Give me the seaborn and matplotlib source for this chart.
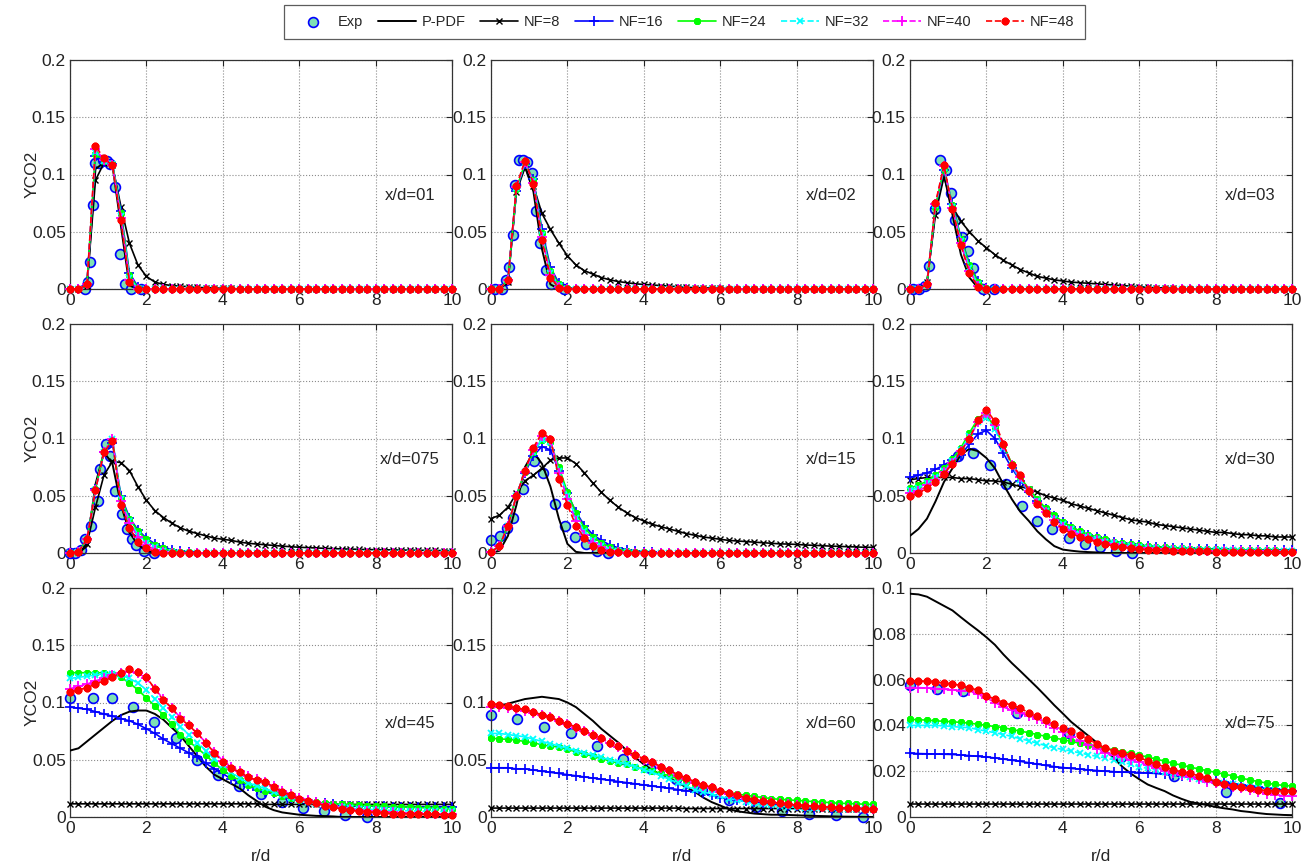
import numpy as np
import matplotlib
matplotlib.use("Agg")
import matplotlib.pyplot as plt
import seaborn as sns

# radial stations r/d shared by all simulation curves
r = np.linspace(0, 10, 46)

series_names = ["NF=8", "NF=16", "NF=24", "NF=32", "NF=40", "NF=48"]
panel_titles = ["x/d=01", "x/d=02", "x/d=03", "x/d=075", "x/d=15", "x/d=30",
                "x/d=45", "x/d=60", "x/d=75"]
x_ticks = [0, 2, 4, 6, 8, 10]
y_ticks_big = [0, 0.05, 0.1, 0.15, 0.2]
y_labels_big = ["0", "0.05", "0.1", "0.15", "0.2"]
y_ticks_small = [0, 0.02, 0.04, 0.06, 0.08, 0.1]
y_labels_small = ["0", "0.02", "0.04", "0.06", "0.08", "0.1"]

# ---- x/d = 01 ----
exp_x_01 = [0.4, 0.46, 0.52, 0.6, 0.66, 0.76, 0.86, 0.96, 1.06, 1.18, 1.32, 1.44, 1.6, 1.87]
exp_y_01 = [0.0, 0.006, 0.024, 0.073, 0.11, 0.11, 0.113, 0.112, 0.109, 0.089, 0.031, 0.004, 0.0, 0.0]
ppdf_01 = [0.0, 0.0, 0.003, 0.105, 0.11, 0.108, 0.055, 0.003]
nf8_01 = [0.0, 0.0, 0.003, 0.095, 0.11, 0.108, 0.072, 0.04, 0.021, 0.011,
          0.006, 0.004, 0.003, 0.0025, 0.002, 0.0015, 0.001, 0.001, 0.0005, 0.0005]
nf16_01 = [0.0, 0.0, 0.004, 0.116, 0.111, 0.109, 0.068, 0.014, 0.002]
nf24_01 = [0.0, 0.0, 0.004, 0.118, 0.112, 0.109, 0.066, 0.012, 0.001]
nf32_01 = [0.0, 0.0, 0.004, 0.12, 0.112, 0.109, 0.064, 0.01]
nf40_01 = [0.0, 0.0, 0.004, 0.122, 0.113, 0.108, 0.062, 0.008]
nf48_01 = [0.0, 0.0, 0.004, 0.125, 0.114, 0.108, 0.06, 0.006]

# ---- x/d = 02 ----
exp_x_02 = [0.1, 0.28, 0.39, 0.47, 0.57, 0.64, 0.72, 0.83, 0.95, 1.07, 1.18, 1.28, 1.44, 1.57, 1.9]
exp_y_02 = [0.0, 0.0, 0.008, 0.019, 0.047, 0.091, 0.113, 0.113, 0.111, 0.101, 0.068, 0.04, 0.017, 0.004, 0.0]
ppdf_02 = [0.0, 0.0, 0.006, 0.088, 0.107, 0.085, 0.035, 0.004]
nf8_02 = [0.0, 0.0, 0.006, 0.085, 0.106, 0.09, 0.066, 0.052, 0.04, 0.029,
          0.021, 0.016, 0.013, 0.01, 0.008, 0.0065, 0.0055, 0.0045, 0.004, 0.0035,
          0.003, 0.0025, 0.002, 0.0015, 0.0012, 0.001, 0.0008, 0.0006, 0.0004, 0.0002]
nf16_02 = [0.0, 0.0, 0.008, 0.086, 0.109, 0.096, 0.052, 0.019, 0.005, 0.001]
nf24_02 = [0.0, 0.0, 0.008, 0.087, 0.11, 0.095, 0.049, 0.016, 0.004, 0.001]
nf32_02 = [0.0, 0.0, 0.008, 0.088, 0.11, 0.094, 0.047, 0.014, 0.003]
nf40_02 = [0.0, 0.0, 0.008, 0.089, 0.111, 0.093, 0.045, 0.012, 0.002]
nf48_02 = [0.0, 0.0, 0.008, 0.09, 0.112, 0.092, 0.043, 0.01, 0.001]

# ---- x/d = 03 ----
exp_x_03 = [0.09, 0.24, 0.39, 0.5, 0.65, 0.78, 0.94, 1.07, 1.19, 1.35, 1.53, 1.65, 1.91, 2.19]
exp_y_03 = [0.0, 0.0, 0.003, 0.02, 0.07, 0.113, 0.104, 0.084, 0.06, 0.045, 0.033, 0.018, 0.0, 0.0]
ppdf_03 = [0.0, 0.0, 0.005, 0.07, 0.1, 0.065, 0.03, 0.01, 0.001]
nf8_03 = [0.0, 0.0, 0.006, 0.065, 0.098, 0.072, 0.059, 0.05, 0.042, 0.036,
          0.03, 0.025, 0.021, 0.017, 0.014, 0.011, 0.0095, 0.008, 0.007, 0.006,
          0.0055, 0.005, 0.0045, 0.004, 0.0035, 0.003, 0.0025, 0.002, 0.0015, 0.001,
          0.001, 0.0005]
nf16_03 = [0.0, 0.0, 0.004, 0.071, 0.104, 0.074, 0.045, 0.022, 0.007, 0.001]
nf24_03 = [0.0, 0.0, 0.004, 0.072, 0.105, 0.073, 0.044, 0.021, 0.006, 0.001]
nf32_03 = [0.0, 0.0, 0.004, 0.073, 0.106, 0.072, 0.042, 0.018, 0.004]
nf40_03 = [0.0, 0.0, 0.004, 0.074, 0.107, 0.071, 0.04, 0.016, 0.003]
nf48_03 = [0.0, 0.0, 0.004, 0.075, 0.108, 0.07, 0.038, 0.014, 0.002]

# ---- x/d = 075 ----
exp_x_075 = [0.0, 0.13, 0.3, 0.39, 0.54, 0.72, 0.79, 0.94, 1.04, 1.18, 1.35, 1.48, 1.61, 1.74, 1.94, 2.2]
exp_y_075 = [0.0, 0.0, 0.003, 0.012, 0.024, 0.045, 0.073, 0.095, 0.085, 0.054, 0.034, 0.021, 0.012, 0.007, 0.002, 0.0]
ppdf_075 = [0.0, 0.0, 0.006, 0.06, 0.088, 0.078, 0.042, 0.018, 0.007, 0.002]
nf8_075 = [0.0, 0.001, 0.008, 0.04, 0.068, 0.08, 0.079, 0.072, 0.058, 0.046,
           0.037, 0.031, 0.026, 0.022, 0.019, 0.017, 0.015, 0.013, 0.012, 0.011,
           0.0095, 0.0085, 0.0078, 0.0072, 0.0066, 0.006, 0.0055, 0.005, 0.0047, 0.0044,
           0.0041, 0.0038, 0.0036, 0.0034, 0.0032, 0.003, 0.0029, 0.0028, 0.0027, 0.0026,
           0.0025, 0.0024, 0.0023, 0.0022, 0.0021, 0.002]
nf16_075 = [0.0, 0.001, 0.012, 0.056, 0.088, 0.096, 0.05, 0.031, 0.02, 0.013,
            0.008, 0.005, 0.003, 0.0015, 0.001]
nf24_075 = [0.0, 0.001, 0.012, 0.056, 0.089, 0.099, 0.048, 0.03, 0.019, 0.012,
            0.007, 0.004, 0.002, 0.001, 0.0005]
nf32_075 = [0.0, 0.001, 0.012, 0.055, 0.088, 0.1, 0.047, 0.028, 0.016, 0.009,
            0.005, 0.002, 0.001]
nf40_075 = [0.0, 0.001, 0.012, 0.055, 0.088, 0.1, 0.045, 0.026, 0.014, 0.007,
            0.003, 0.001]
nf48_075 = [0.0, 0.001, 0.012, 0.055, 0.088, 0.098, 0.042, 0.022, 0.01, 0.004, 0.001]

# ---- x/d = 15 ----
exp_x_15 = [0.0, 0.24, 0.41, 0.57, 0.85, 1.13, 1.37, 1.68, 1.94, 2.2, 2.49, 2.77, 3.05]
exp_y_15 = [0.011, 0.015, 0.022, 0.031, 0.056, 0.08, 0.07, 0.043, 0.024, 0.014, 0.008, 0.002, 0.0]
ppdf_15 = [0.0, 0.002, 0.015, 0.042, 0.075, 0.088, 0.078, 0.058, 0.03, 0.008, 0.001]
nf8_15 = [0.03, 0.033, 0.04, 0.052, 0.063, 0.068, 0.074, 0.081, 0.083, 0.083,
          0.078, 0.07, 0.061, 0.053, 0.046, 0.04, 0.035, 0.031, 0.028, 0.025,
          0.023, 0.021, 0.019, 0.017, 0.0155, 0.014, 0.013, 0.012, 0.011, 0.0105,
          0.01, 0.0095, 0.009, 0.0085, 0.008, 0.0078, 0.0075, 0.007, 0.0067, 0.0064,
          0.006, 0.0058, 0.0055, 0.0053, 0.005, 0.005]
nf16_15 = [0.001, 0.006, 0.024, 0.05, 0.07, 0.085, 0.093, 0.09, 0.072, 0.052,
           0.036, 0.024, 0.016, 0.011, 0.007, 0.0045, 0.003, 0.002, 0.001, 0.0005]
nf24_15 = [0.001, 0.006, 0.024, 0.05, 0.071, 0.088, 0.099, 0.097, 0.075, 0.053,
           0.035, 0.022, 0.014, 0.009, 0.005, 0.003, 0.002, 0.001, 0.0005]
nf32_15 = [0.001, 0.006, 0.024, 0.05, 0.071, 0.088, 0.099, 0.097, 0.072, 0.05,
           0.031, 0.019, 0.011, 0.006, 0.003, 0.0015, 0.0005]
nf40_15 = [0.001, 0.006, 0.024, 0.05, 0.071, 0.09, 0.102, 0.099, 0.07, 0.047,
           0.028, 0.016, 0.009, 0.005, 0.002, 0.001]
nf48_15 = [0.001, 0.006, 0.024, 0.05, 0.072, 0.092, 0.105, 0.1, 0.065, 0.042,
           0.024, 0.013, 0.006, 0.003, 0.001, 0.0005]

# ---- x/d = 30 ----
exp_x_30 = [1.25, 1.65, 2.09, 2.5, 2.92, 3.33, 3.72, 4.16, 4.57, 4.98, 5.4, 5.82]
exp_y_30 = [0.085, 0.087, 0.077, 0.06, 0.041, 0.028, 0.021, 0.013, 0.008, 0.005, 0.002, 0.0]
ppdf_30 = [0.015, 0.021, 0.03, 0.045, 0.062, 0.074, 0.086, 0.091, 0.089, 0.083,
           0.074, 0.06, 0.047, 0.036, 0.028, 0.019, 0.012, 0.006, 0.003, 0.002,
           0.0012, 0.0008, 0.0005]
nf8_30 = [0.064, 0.065, 0.066, 0.066, 0.066, 0.066, 0.065, 0.065, 0.064, 0.063,
          0.063, 0.062, 0.06, 0.058, 0.056, 0.053, 0.05, 0.048, 0.046, 0.043,
          0.041, 0.039, 0.037, 0.035, 0.033, 0.031, 0.029, 0.028, 0.027, 0.025,
          0.024, 0.023, 0.022, 0.021, 0.02, 0.019, 0.018, 0.018, 0.017, 0.016,
          0.016, 0.015, 0.015, 0.014, 0.014, 0.014]
nf16_30 = [0.066, 0.068, 0.07, 0.073, 0.077, 0.081, 0.086, 0.095, 0.104, 0.107,
           0.1, 0.087, 0.074, 0.063, 0.053, 0.045, 0.038, 0.032, 0.027, 0.023,
           0.019, 0.016, 0.014, 0.012, 0.01, 0.009, 0.008, 0.007, 0.0062, 0.0056,
           0.0051, 0.0047, 0.0043, 0.004, 0.0037, 0.0035, 0.0033, 0.0031, 0.003, 0.0028,
           0.0027, 0.0026, 0.0025, 0.0024, 0.0023, 0.0022]
nf24_30 = [0.057, 0.059, 0.063, 0.068, 0.074, 0.082, 0.092, 0.105, 0.117, 0.12,
           0.11, 0.094, 0.078, 0.066, 0.056, 0.047, 0.039, 0.033, 0.027, 0.023,
           0.019, 0.016, 0.014, 0.012, 0.01, 0.0088, 0.0077, 0.0068, 0.006, 0.0054,
           0.0049, 0.0045, 0.0041, 0.0038, 0.0035, 0.0033, 0.0031, 0.0029, 0.0028, 0.0026,
           0.0025, 0.0024, 0.0023, 0.0022, 0.0021, 0.002]
nf32_30 = [0.055, 0.057, 0.061, 0.066, 0.072, 0.08, 0.09, 0.102, 0.114, 0.118,
           0.108, 0.092, 0.076, 0.064, 0.054, 0.045, 0.037, 0.03, 0.025, 0.021,
           0.017, 0.014, 0.012, 0.01, 0.0085, 0.0072, 0.0062, 0.0054, 0.0047, 0.0042,
           0.0038, 0.0034, 0.0031, 0.0029, 0.0027, 0.0025, 0.0024, 0.0023, 0.0022, 0.0021,
           0.002, 0.002, 0.0019, 0.0019, 0.0018, 0.0018]
nf40_30 = [0.052, 0.054, 0.059, 0.064, 0.071, 0.079, 0.089, 0.1, 0.114, 0.122,
           0.112, 0.094, 0.077, 0.066, 0.054, 0.044, 0.036, 0.029, 0.023, 0.019,
           0.016, 0.013, 0.011, 0.009, 0.0075, 0.0062, 0.0052, 0.0045, 0.004, 0.0035,
           0.0031, 0.0028, 0.0025, 0.0023, 0.0021, 0.002, 0.0019, 0.0018, 0.0017, 0.0016,
           0.0015, 0.0015, 0.0014, 0.0014, 0.0013, 0.0013]
nf48_30 = [0.05, 0.052, 0.057, 0.062, 0.069, 0.078, 0.089, 0.1, 0.116, 0.125,
           0.115, 0.095, 0.077, 0.068, 0.054, 0.043, 0.035, 0.027, 0.021, 0.017,
           0.014, 0.012, 0.0095, 0.0078, 0.006, 0.005, 0.004, 0.0033, 0.003, 0.0025,
           0.0022, 0.002, 0.0018, 0.0016, 0.0015, 0.0014, 0.0013, 0.0012, 0.0012, 0.0011,
           0.0011, 0.001, 0.001, 0.001, 0.001, 0.001]

# ---- x/d = 45 ----
exp_x_45 = [0.0, 0.59, 1.09, 1.66, 2.2, 2.77, 3.32, 3.88, 4.43, 4.99, 5.54, 6.1, 6.65, 7.21, 7.77]
exp_y_45 = [0.104, 0.104, 0.104, 0.096, 0.083, 0.069, 0.05, 0.037, 0.027, 0.02, 0.013, 0.008, 0.005, 0.002, 0.0]
ppdf_45 = [0.058, 0.06, 0.066, 0.072, 0.078, 0.084, 0.089, 0.092, 0.093, 0.093,
           0.09, 0.085, 0.078, 0.071, 0.062, 0.053, 0.044, 0.037, 0.033, 0.029,
           0.025, 0.019, 0.014, 0.009, 0.006, 0.004, 0.003, 0.002, 0.0015, 0.001,
           0.0008, 0.0005]
nf8_45 = [0.0115] * 23 + [0.011] * 23
nf16_45 = [0.096, 0.095, 0.094, 0.092, 0.09, 0.088, 0.086, 0.084, 0.081, 0.077,
           0.073, 0.068, 0.064, 0.06, 0.056, 0.052, 0.047, 0.042, 0.038, 0.033,
           0.03, 0.027, 0.024, 0.022, 0.021, 0.019, 0.017, 0.015, 0.014, 0.013,
           0.012, 0.011, 0.0105, 0.01, 0.0098, 0.0096, 0.0094, 0.0092, 0.009, 0.009,
           0.009, 0.009, 0.009, 0.009, 0.009, 0.009]
nf24_45 = [0.126, 0.126, 0.126, 0.126, 0.126, 0.125, 0.122, 0.117, 0.111, 0.104,
           0.097, 0.089, 0.081, 0.072, 0.066, 0.06, 0.054, 0.047, 0.041, 0.036,
           0.032, 0.028, 0.025, 0.023, 0.021, 0.018, 0.0165, 0.015, 0.014, 0.013,
           0.012, 0.0115, 0.011, 0.0105, 0.0102, 0.01, 0.0096, 0.0093, 0.009, 0.0088,
           0.0085, 0.0082, 0.008, 0.0077, 0.0073, 0.007]
nf32_45 = [0.121, 0.122, 0.123, 0.124, 0.125, 0.125, 0.124, 0.121, 0.117, 0.111,
           0.103, 0.095, 0.087, 0.079, 0.072, 0.065, 0.058, 0.051, 0.045, 0.039,
           0.034, 0.03, 0.027, 0.025, 0.022, 0.019, 0.017, 0.015, 0.013, 0.0115,
           0.01, 0.009, 0.0083, 0.0077, 0.0072, 0.0068, 0.0064, 0.006, 0.0058, 0.0056,
           0.0054, 0.0052, 0.0051, 0.005, 0.005, 0.005]
nf40_45 = [0.112, 0.114, 0.116, 0.119, 0.121, 0.124, 0.126, 0.127, 0.126, 0.121,
           0.112, 0.103, 0.095, 0.087, 0.08, 0.073, 0.065, 0.057, 0.049, 0.044,
           0.04, 0.036, 0.033, 0.031, 0.027, 0.023, 0.02, 0.017, 0.015, 0.013,
           0.011, 0.0095, 0.008, 0.007, 0.006, 0.0055, 0.005, 0.0045, 0.004, 0.0038,
           0.0035, 0.0033, 0.003, 0.0028, 0.0026, 0.0025]
nf48_45 = [0.109, 0.111, 0.113, 0.116, 0.119, 0.122, 0.126, 0.129, 0.127, 0.122,
           0.112, 0.102, 0.095, 0.086, 0.08, 0.073, 0.065, 0.056, 0.048, 0.043,
           0.039, 0.035, 0.032, 0.031, 0.026, 0.022, 0.019, 0.016, 0.014, 0.012,
           0.01, 0.0085, 0.007, 0.006, 0.005, 0.0045, 0.004, 0.0035, 0.003, 0.003,
           0.0028, 0.0025, 0.0023, 0.0022, 0.002, 0.002]

# ---- x/d = 60 ----
exp_x_60 = [0.0, 0.69, 1.39, 2.09, 2.77, 3.45, 4.15, 4.83, 5.53, 6.23, 6.93, 7.63, 8.33, 9.03, 9.73]
exp_y_60 = [0.089, 0.086, 0.079, 0.073, 0.062, 0.051, 0.043, 0.033, 0.024, 0.015, 0.009, 0.005, 0.003, 0.002, 0.0]
ppdf_60 = [0.095, 0.097, 0.099, 0.101, 0.103, 0.104, 0.105, 0.104, 0.103, 0.1,
           0.096, 0.09, 0.084, 0.077, 0.071, 0.065, 0.058, 0.052, 0.046, 0.041,
           0.037, 0.034, 0.03, 0.026, 0.022, 0.017, 0.013, 0.01, 0.007, 0.005,
           0.004, 0.003, 0.0025, 0.002, 0.002, 0.0018, 0.0015, 0.0012, 0.001, 0.0008,
           0.0006, 0.0004, 0.0003, 0.0002, 0.0001, 0.0]
nf8_60 = [0.0078] * 23 + [0.0074] * 23
nf16_60 = [0.043, 0.043, 0.043, 0.042, 0.042, 0.041, 0.04, 0.039, 0.038, 0.037,
           0.036, 0.035, 0.034, 0.033, 0.032, 0.031, 0.03, 0.029, 0.028, 0.027,
           0.026, 0.025, 0.024, 0.023, 0.022, 0.021, 0.019, 0.017, 0.016, 0.015,
           0.014, 0.013, 0.012, 0.011, 0.0105, 0.01, 0.0095, 0.009, 0.0088, 0.0085,
           0.0082, 0.008, 0.0078, 0.0075, 0.0072, 0.007]
nf24_60 = [0.069, 0.068, 0.068, 0.067, 0.066, 0.065, 0.063, 0.062, 0.061, 0.059,
           0.057, 0.055, 0.053, 0.051, 0.049, 0.047, 0.046, 0.044, 0.042, 0.04,
           0.038, 0.036, 0.034, 0.031, 0.029, 0.027, 0.025, 0.023, 0.021, 0.02,
           0.019, 0.018, 0.017, 0.016, 0.0155, 0.015, 0.0145, 0.014, 0.0135, 0.013,
           0.0125, 0.012, 0.0118, 0.0115, 0.0112, 0.011]
nf32_60 = [0.073, 0.073, 0.072, 0.071, 0.07, 0.068, 0.066, 0.064, 0.062, 0.06,
           0.058, 0.056, 0.054, 0.052, 0.05, 0.048, 0.046, 0.044, 0.041, 0.039,
           0.036, 0.033, 0.03, 0.027, 0.024, 0.022, 0.02, 0.018, 0.016, 0.015,
           0.013, 0.012, 0.011, 0.0102, 0.0095, 0.009, 0.0085, 0.0082, 0.008, 0.0078,
           0.0076, 0.0074, 0.0072, 0.0071, 0.007, 0.007]
nf40_60 = [0.096, 0.096, 0.095, 0.094, 0.093, 0.091, 0.089, 0.087, 0.084, 0.081,
           0.078, 0.075, 0.072, 0.068, 0.065, 0.061, 0.058, 0.054, 0.05, 0.047,
           0.043, 0.04, 0.036, 0.033, 0.03, 0.027, 0.025, 0.022, 0.02, 0.018,
           0.016, 0.015, 0.014, 0.013, 0.012, 0.011, 0.0105, 0.01, 0.0095, 0.009,
           0.0085, 0.008, 0.0078, 0.0075, 0.0072, 0.007]
nf48_60 = [0.099, 0.098, 0.097, 0.095, 0.094, 0.092, 0.089, 0.087, 0.084, 0.081,
           0.079, 0.075, 0.072, 0.069, 0.065, 0.062, 0.058, 0.054, 0.051, 0.048,
           0.044, 0.041, 0.037, 0.034, 0.031, 0.028, 0.026, 0.023, 0.021, 0.019,
           0.017, 0.015, 0.014, 0.013, 0.012, 0.011, 0.0105, 0.01, 0.0095, 0.009,
           0.0085, 0.008, 0.0078, 0.0075, 0.0072, 0.007]

# ---- x/d = 75 ----
exp_x_75 = [0.0, 0.7, 1.38, 2.79, 4.16, 5.53, 6.9, 8.28, 9.68]
exp_y_75 = [0.0577, 0.056, 0.055, 0.0455, 0.0368, 0.026, 0.018, 0.011, 0.006]
ppdf_75 = [0.0975, 0.0972, 0.0962, 0.0942, 0.0922, 0.0902, 0.0872, 0.0843, 0.0815, 0.0785,
           0.0752, 0.071, 0.0672, 0.0637, 0.0601, 0.0565, 0.0527, 0.0488, 0.0452, 0.0415,
           0.0385, 0.0355, 0.0325, 0.0292, 0.0258, 0.022, 0.019, 0.0165, 0.0142, 0.0127,
           0.0113, 0.0094, 0.0079, 0.0066, 0.0059, 0.0052, 0.0044, 0.0038, 0.0033, 0.0026,
           0.0022, 0.0017, 0.0013, 0.0011, 0.0009, 0.0008]
nf8_75 = [0.0056] * 46
nf16_75 = [0.0278, 0.0277, 0.0276, 0.0275, 0.0274, 0.0273, 0.0271, 0.0268, 0.0265, 0.0262,
           0.0258, 0.0253, 0.0248, 0.0243, 0.0237, 0.0231, 0.0225, 0.022, 0.0216, 0.0212,
           0.0209, 0.0206, 0.0203, 0.02, 0.0198, 0.0196, 0.0195, 0.0194, 0.0192, 0.019,
           0.0186, 0.0182, 0.0178, 0.0173, 0.0168, 0.0163, 0.0158, 0.0152, 0.0146, 0.014,
           0.0135, 0.013, 0.0125, 0.0121, 0.0118, 0.0115]
nf24_75 = [0.0426, 0.0425, 0.0423, 0.042, 0.0418, 0.0416, 0.0413, 0.041, 0.0405, 0.04,
           0.0395, 0.039, 0.0382, 0.0375, 0.0368, 0.036, 0.0352, 0.0345, 0.0338, 0.033,
           0.0322, 0.0315, 0.0308, 0.03, 0.0293, 0.0286, 0.0278, 0.027, 0.0262, 0.0253,
           0.0244, 0.0235, 0.0226, 0.0218, 0.021, 0.0202, 0.0195, 0.0187, 0.018, 0.017,
           0.0162, 0.0155, 0.0148, 0.0142, 0.0138, 0.0135]
nf32_75 = [0.04, 0.04, 0.04, 0.04, 0.0398, 0.0395, 0.0392, 0.039, 0.0382, 0.0375,
           0.0368, 0.036, 0.0352, 0.0342, 0.0333, 0.0322, 0.0312, 0.0302, 0.0295, 0.0288,
           0.028, 0.0272, 0.0265, 0.0258, 0.025, 0.024, 0.023, 0.022, 0.0212, 0.0205,
           0.0198, 0.019, 0.0182, 0.0175, 0.0168, 0.0162, 0.0155, 0.0148, 0.0142, 0.0135,
           0.013, 0.0125, 0.012, 0.0116, 0.0113, 0.011]
nf40_75 = [0.0565, 0.0565, 0.0563, 0.0561, 0.0558, 0.0555, 0.0552, 0.055, 0.0535, 0.052,
           0.05, 0.048, 0.0467, 0.0455, 0.0442, 0.043, 0.041, 0.039, 0.037, 0.035,
           0.0333, 0.0315, 0.0297, 0.028, 0.027, 0.026, 0.025, 0.0238, 0.0227, 0.0215,
           0.0203, 0.019, 0.0182, 0.0173, 0.0164, 0.0155, 0.0147, 0.014, 0.0132, 0.0125,
           0.0117, 0.011, 0.0102, 0.0097, 0.0093, 0.009]
nf48_75 = [0.0594, 0.0594, 0.0592, 0.059, 0.0585, 0.058, 0.0575, 0.0565, 0.0553, 0.053,
           0.0515, 0.05, 0.0488, 0.0475, 0.0455, 0.044, 0.0425, 0.0405, 0.039, 0.0375,
           0.036, 0.034, 0.032, 0.03, 0.029, 0.028, 0.027, 0.026, 0.0245, 0.023,
           0.022, 0.0205, 0.0198, 0.019, 0.018, 0.017, 0.0155, 0.0145, 0.0135, 0.013,
           0.0125, 0.012, 0.0115, 0.0115, 0.0115, 0.0115]


def pad0(vals):
    """curves that reach zero are stored only up to that point"""
    vals = list(vals)
    return vals + [0.0] * (len(r) - len(vals))


panels = [
    (exp_x_01, exp_y_01, ppdf_01, [nf8_01, nf16_01, nf24_01, nf32_01, nf40_01, nf48_01]),
    (exp_x_02, exp_y_02, ppdf_02, [nf8_02, nf16_02, nf24_02, nf32_02, nf40_02, nf48_02]),
    (exp_x_03, exp_y_03, ppdf_03, [nf8_03, nf16_03, nf24_03, nf32_03, nf40_03, nf48_03]),
    (exp_x_075, exp_y_075, ppdf_075, [nf8_075, nf16_075, nf24_075, nf32_075, nf40_075, nf48_075]),
    (exp_x_15, exp_y_15, ppdf_15, [nf8_15, nf16_15, nf24_15, nf32_15, nf40_15, nf48_15]),
    (exp_x_30, exp_y_30, ppdf_30, [nf8_30, nf16_30, nf24_30, nf32_30, nf40_30, nf48_30]),
    (exp_x_45, exp_y_45, ppdf_45, [nf8_45, nf16_45, nf24_45, nf32_45, nf40_45, nf48_45]),
    (exp_x_60, exp_y_60, ppdf_60, [nf8_60, nf16_60, nf24_60, nf32_60, nf40_60, nf48_60]),
    (exp_x_75, exp_y_75, ppdf_75, [nf8_75, nf16_75, nf24_75, nf32_75, nf40_75, nf48_75]),
]

# line styles in the MATLAB look of the original
asterisk = (8, 2, 0)
styles = [
    dict(color="#000000", marker="x", linestyle="-", markersize=4.5, markeredgewidth=1.0),
    dict(color="#0000ff", marker="+", linestyle="-", markersize=7, markeredgewidth=1.2),
    dict(color="#00ff00", marker=asterisk, linestyle="-", markersize=5, markeredgewidth=1.6),
    dict(color="#00ffff", marker="x", linestyle="--", markersize=5, markeredgewidth=1.3),
    dict(color="#ff00ff", marker="+", linestyle="--", markersize=7, markeredgewidth=1.3),
    dict(color="#ff0000", marker=asterisk, linestyle="--", markersize=5.5, markeredgewidth=1.9),
]

sns.set_theme(style="white")
plt.rcParams["font.family"] = ["Liberation Sans", "DejaVu Sans"]

fig = plt.figure(figsize=(13.11, 8.68), dpi=100)

W, H = 1311.0, 868.0
col_left = [70, 491, 910]
row_top = [60, 324, 588]
ax_w, ax_h = 382, 229

axes = []
for k, (ex, ey, pp, sims) in enumerate(panels):
    row, col = divmod(k, 3)
    ax = fig.add_axes([col_left[col] / W, 1 - (row_top[row] + ax_h) / H, ax_w / W, ax_h / H])
    axes.append(ax)

    sns.scatterplot(x=ex, y=ey, ax=ax, marker="o", s=50, color="#7fe0b4",
                    edgecolor="#0000ff", linewidth=1.2, label="Exp", legend=False,
                    zorder=2, clip_on=False)
    sns.lineplot(x=r, y=pad0(pp), ax=ax, color="black", linewidth=1.4,
                 label="P-PDF", legend=False, errorbar=None, sort=False, zorder=3)
    for name, vals, st in zip(series_names, sims, styles):
        st = dict(st)
        c = st.pop("color")
        sns.lineplot(x=r, y=pad0(vals), ax=ax, color=c, linewidth=1.2,
                     markerfacecolor=c, markeredgecolor=c, label=name,
                     legend=False, errorbar=None, sort=False, zorder=4,
                     clip_on=False, **st)

    ax.set_xlim(0, 10)
    ax.set_xticks(x_ticks)
    ax.set_xticklabels([str(t) for t in x_ticks])
    if k == 8:
        ax.set_ylim(0, 0.1)
        ax.set_yticks(y_ticks_small)
        ax.set_yticklabels(y_labels_small)
    else:
        ax.set_ylim(0, 0.2)
        ax.set_yticks(y_ticks_big)
        ax.set_yticklabels(y_labels_big)

    ax.grid(True, linestyle=":", color="#8c8c8c", linewidth=0.8)
    ax.set_axisbelow(True)
    ax.tick_params(direction="in", length=4, width=0.8, labelsize=12.5, pad=3,
                   top=True, right=True, colors="#222222")
    for sp in ax.spines.values():
        sp.set_visible(True)
        sp.set_color("#333333")
        sp.set_linewidth(0.9)
    if row == 2:
        ax.set_xlabel("r/d", fontsize=12.5)
        ax.xaxis.set_label_coords(0.5, -0.14)
    else:
        ax.set_xlabel("")
    if col == 0:
        ax.set_ylabel("YCO2", fontsize=12.5)
        ax.yaxis.set_label_coords(-0.08, 0.5)
    else:
        ax.set_ylabel("")
    ax.text(0.89, 0.41, panel_titles[k], transform=ax.transAxes, ha="center",
            va="center", fontsize=12, zorder=6)

handles, labels = axes[0].get_legend_handles_labels()
leg = fig.legend(handles, labels, loc="center", bbox_to_anchor=(684.5 / W, 1 - 22 / H),
                 ncol=8, frameon=True, fancybox=False, edgecolor="#333333",
                 fontsize=10.5, handlelength=2.6, columnspacing=1.0, handletextpad=0.4,
                 borderpad=0.7, scatterpoints=1)
leg.get_frame().set_linewidth(0.9)

fig.savefig("out.png", dpi=100)
